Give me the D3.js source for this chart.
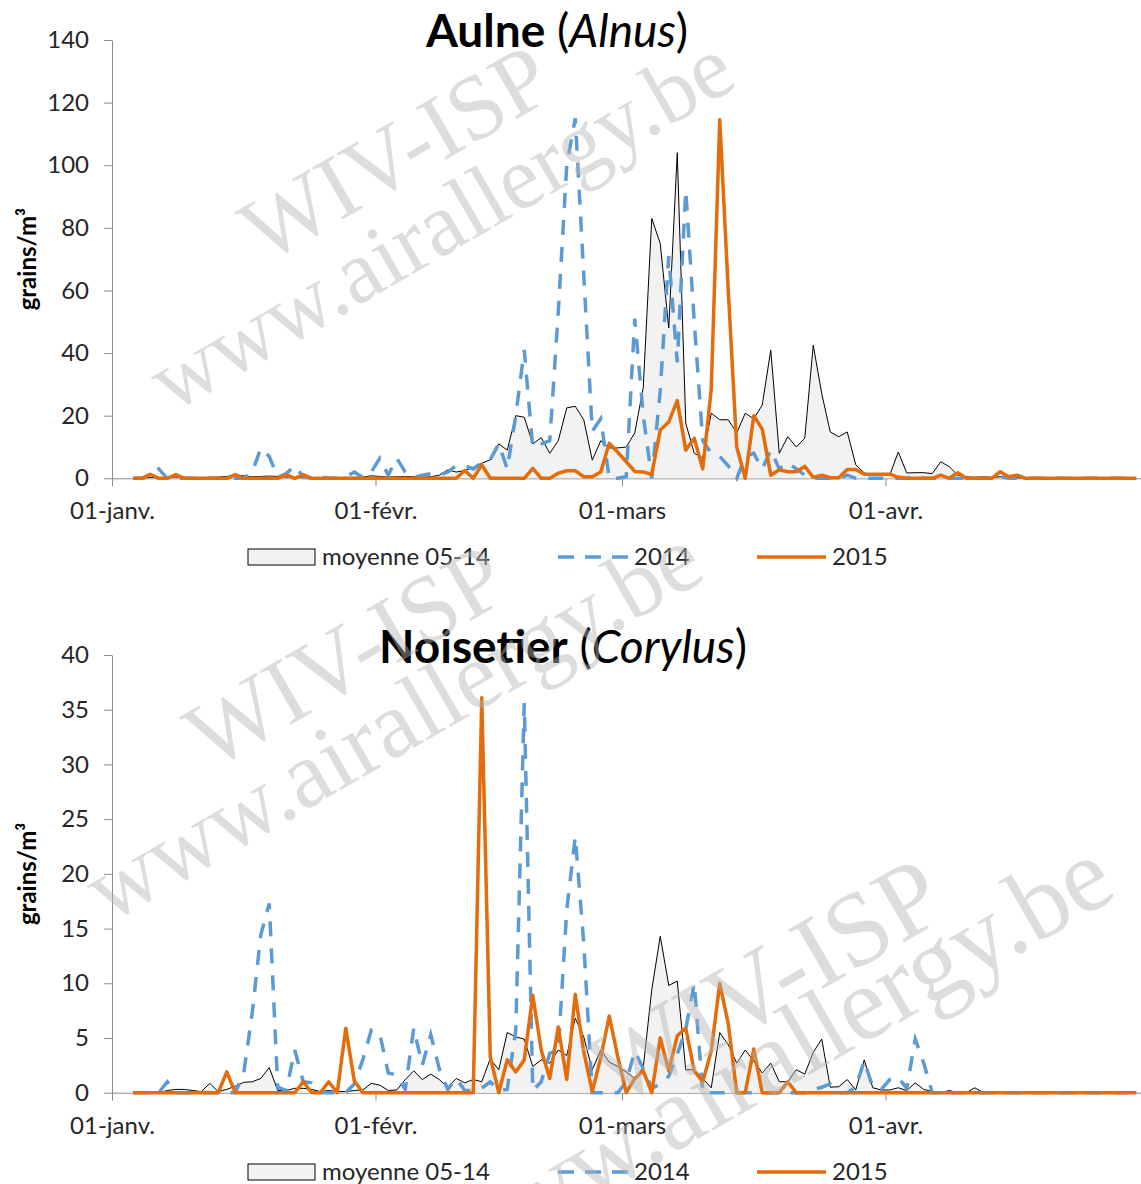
<!DOCTYPE html>
<html>
<head>
<meta charset="utf-8">
<script src="https://cdn.jsdelivr.net/npm/d3@7"></script>
<style>
  body { margin: 0; background: #fff; }
  text { font-family: Lato, "Open Sans", sans-serif; }
</style>
</head>
<body>
<svg id="chart" width="1141" height="1184"></svg>
<script>
// daily pollen counts, first value = 03 Jan, last = 30 Apr
const firstDay = "2016-01-03";

const alnusAvg = [
  0, 0.2, 0.3, 0.2, 0.3, 0.4, 0.3, 0.2, 0.2, 0.3,
  0.4, 0.6, 1.0, 0.8, 0.5, 0.6, 0.7, 0.6, 0.4, 0.3,
  0.2, 0.2, 0.2, 0.3, 0.2, 0.3, 0.3, 0.4, 0.8, 0.6,
  0.4, 0.5, 0.6, 0.5, 0.3, 0.5, 1.0, 2.7, 2.0, 2.5,
  3.5, 4.8, 5.9, 11, 9, 20, 19.5, 11, 13, 8,
  12, 22.5, 23, 18.7, 5.8, 12, 9.7, 9.7, 10, 14.5,
  29, 83, 75, 48, 104, 17.6, 8, 6.5, 20.8, 18.7,
  18.7, 14.5, 20.8, 19, 23.4, 41, 8, 13.3, 10, 12.8,
  42.5, 27, 14.8, 13.3, 14.8, 4.3, 1.7, 1, 1, 1,
  8.4, 1.7, 1.8, 1.8, 1.5, 5.3, 3.7, 1, 0.5, 0.3,
  0.5, 0.3, 0.5, 0.3, 0.2, 0, 0, 0, 0, 0,
  0, 0, 0.3, 0, 0, 0, 0, 0, 0
];
const alnus2014 = [
  0, 0, 0.5, 3, 0, 0, 0, 0, 0, 0,
  0, 0, 0, 0, 2, 9.6, 7, 0.3, 1.5, 4,
  0.5, 0, 0.5, 0, 0, 0.5, 2, 0.3, 2, 6.4,
  1, 6.4, 2, 0.3, 1, 1.5, 1, 2, 4, 4,
  3, 5, 6, 11, 3, 20, 41, 10, 11, 12,
  53, 100, 115, 65, 15, 19, 0, 0, 0.5, 51,
  20, 0, 28, 71, 37, 92, 50, 12, 8, 7,
  4, 0, 7, 8, 3, 9, 3, 5, 3, 1,
  0, 0, 0, 0, 1, 0, 0, 0, 0, 0,
  0, 0, 1, 0, 0, 0, 0, 0, 0, 0,
  0, 0, 0.5, 0, 0, 0, 0, 0, 0, 0,
  0, 0, 0, 0, 0, 0, 0, 0, 0
];
const alnus2015 = [
  0, 0, 1.3, 0, 0, 1.2, 0, 0, 0, 0,
  0, 0, 1.2, 0, 0, 0, 0, 0, 1.2, 0,
  1.2, 0, 0, 0, 0, 0, 0, 0, 0, 0,
  0, 0, 0, 0, 0, 0, 0, 0, 0, 2.5,
  0, 4.3, 0, 0, 0, 0, 0, 3.2, 0, 0,
  1.6, 2.4, 2.4, 0.5, 0.5, 2, 11.2, 8.3, 5.3, 2.2,
  2, 1.3, 15.4, 18, 24.8, 9, 12.8, 3, 28.5, 114.5,
  60, 10, 0, 20, 15.7, 1, 2.7, 2.1, 2.1, 3.8,
  0.3, 1, 0.2, 0.2, 2.8, 2.8, 1.3, 1.3, 1.3, 1.3,
  0.3, 0, 0, 0, 0, 1, 0, 1.8, 0, 0,
  0, 0, 2.1, 0.5, 1, 0, 0, 0, 0, 0,
  0, 0, 0, 0, 0, 0, 0, 0, 0
];

const corylusAvg = [
  0, 0, 0, 0, 0.2, 0.3, 0.3, 0.2, 0.1, 0.85,
  0.1, 0.3, 0.6, 0.95, 1.0, 1.3, 2.3, 0.2, 0.2, 0.4,
  0.4, 0.3, 0.1, 0.2, 0.1, 0.1, 0.2, 0.25, 0.85, 0.7,
  0.2, 0.25, 1.2, 2.0, 1.2, 1.7, 1.2, 0.5, 1.3, 0.9,
  1.2, 1.0, 3.1, 2.1, 5.5, 5.1, 4.9, 2.4, 3.0, 2.7,
  3.9, 3.4, 6.8, 5.1, 2.1, 3.9, 2.8, 2.4, 1.9, 1.3,
  2.3, 9.4, 14.3, 9.8, 10.2, 2.1, 2.1, 1.3, 0.45, 5.5,
  4.4, 2.7, 3.9, 2.9, 1.8, 2.7, 1.0, 1.0, 2.1, 1.7,
  3.7, 4.9, 0.5, 0.55, 1.2, 0.25, 3.0, 0.45, 0.25, 0.25,
  0.45, 0.2, 0.9, 0.3, 0.1, 0, 0.2, 0, 0, 0.45,
  0, 0, 0, 0, 0, 0, 0, 0, 0, 0,
  0, 0, 0, 0, 0, 0, 0, 0, 0
];
const corylus2014 = [
  0, 0, 0, 0, 1.0, 0, 0, 0, 0, 0,
  0, 0, 0, 1.8, 7.3, 14.4, 17.3, 0.5, 0.2, 3.9,
  1.0, 0.9, 0, 0, 0, 0, 0.8, 3.0, 5.7, 5.4,
  1.8, 1.6, 0.3, 5.9, 2.5, 5.3, 2.2, 0.3, 1.3, 0.2,
  0.2, 0.4, 1.0, 0.2, 0.3, 5.7, 35.6, 0.2, 1.0, 3.6,
  3.9, 16.7, 23.4, 13.7, 0, 0, 0, 0, 1.0, 3.8,
  2.2, 0.4, 0.8, 1.5, 3.5, 5.8, 10.0, 0, 0, 0,
  0, 0, 0, 0, 0, 0, 0, 0, 0, 0,
  0.3, 0.5, 0.8, 0, 0, 0.5, 2.9, 0.5, 0.3, 1.2,
  1.4, 0.4, 4.9, 2.7, 0, 0, 0, 0, 0, 0,
  0, 0, 0, 0, 0, 0, 0, 0, 0, 0,
  0, 0, 0, 0, 0, 0, 0, 0, 0
];
const corylus2015 = [
  0, 0, 0, 0, 0, 0, 0, 0, 0, 0,
  0, 1.9, 0, 0, 0, 0, 0, 0, 0, 0,
  1.0, 0, 0, 1.0, 0, 5.9, 1.1, 0, 0, 0,
  0, 0, 0, 0, 0, 0, 0, 0, 0, 0,
  0, 36.1, 3.3, 0, 3.0, 1.9, 3.0, 8.9, 3.9, 1.3,
  6.0, 1.2, 9.0, 3.75, 0.1, 3.2, 7.0, 3.3, 0, 1.3,
  2.0, 0, 5.0, 2.0, 5.2, 5.9, 2.0, 1.0, 3.8, 10.0,
  6.3, 0, 0, 4.0, 0, 0, 0, 1.0, 0, 0,
  0, 0, 0, 0, 0, 0, 0, 0, 0, 0,
  0, 0, 0, 0, 0, 0, 0, 0, 0, 0,
  0, 0, 0, 0, 0, 0, 0, 0, 0, 0,
  0, 0, 0, 0, 0, 0, 0, 0, 0
];

const monthTicks = ["2016-01-01", "2016-02-01", "2016-03-01", "2016-04-01"];
const monthLabels = ["01-janv.", "01-févr.", "01-mars", "01-avr."];
const alnusTicks = [0, 20, 40, 60, 80, 100, 120, 140];
const corylusTicks = [0, 5, 10, 15, 20, 25, 30, 35, 40];
const seriesNames = ["moyenne 05-14", "2014", "2015"];

const svg = d3.select('#chart');
const parse = d3.utcParse('%Y-%m-%d');
const start = parse(firstDay);
const x = d3.scaleUtc()
  .domain([parse("2016-01-01"), parse("2016-05-01")])
  .range([112, 1140.5]);

const blue = '#5b9bd5', orange = '#e46c0a', axisGrey = '#8c8c8c';

// points sit in the middle of their day
function toPoints(vals) {
  return vals.map((v, k) => ({date: d3.utcHour.offset(d3.utcDay.offset(start, k), 12), v: v}));
}

function drawPanel(cfg) {
  const y = d3.scaleLinear().domain([0, cfg.max]).range([cfg.bottom, cfg.top]);
  const g = svg.append('g');

  const area = d3.area().x(d => x(d.date)).y0(y(0)).y1(d => y(d.v));
  const line = d3.line().x(d => x(d.date)).y(d => y(d.v));

  // axes first so the zero-valued series lie over them
  const yAxis = g.append('g')
    .attr('transform', 'translate(112,0)')
    .call(d3.axisLeft(y).tickValues(cfg.ticks).tickSize(8).tickPadding(15).tickSizeOuter(0));
  const xAxis = g.append('g')
    .attr('transform', `translate(0,${cfg.bottom})`)
    .call(d3.axisBottom(x).tickValues(monthTicks.map(parse))
      .tickFormat((d, i) => monthLabels[i]).tickSize(8).tickPadding(16).tickSizeOuter(0));
  [yAxis, xAxis].forEach(a => {
    a.selectAll('path, line').attr('stroke', axisGrey);
    a.selectAll('text').style('font-size', '24px').attr('fill', '#262626');
  });

  g.append('path').datum(toPoints(cfg.avg))
    .attr('d', area).attr('fill', '#f2f2f2');
  g.append('path').datum(toPoints(cfg.avg))
    .attr('d', line).attr('fill', 'none').attr('stroke', '#000').attr('stroke-width', 1);
  g.append('path').datum(toPoints(cfg.s2014))
    .attr('d', line).attr('fill', 'none').attr('stroke', blue)
    .attr('stroke-width', 3.5).attr('stroke-dasharray', '15,12');
  g.append('path').datum(toPoints(cfg.s2015))
    .attr('d', line).attr('fill', 'none').attr('stroke', orange)
    .attr('stroke-width', 3.5).attr('stroke-linejoin', 'round');

  // title
  const t = g.append('text').attr('x', cfg.titleX).attr('y', cfg.titleY)
    .attr('text-anchor', 'middle').style('font-size', '46px').attr('fill', '#000');
  t.append('tspan').style('font-weight', 'bold').text(cfg.name);
  t.append('tspan').text(' (');
  t.append('tspan').style('font-style', 'italic').text(cfg.latin);
  t.append('tspan').text(')');

  // y label
  g.append('text')
    .attr('transform', `translate(36,${(cfg.top + cfg.bottom) / 2}) rotate(-90)`)
    .attr('text-anchor', 'middle')
    .style('font-size', '24px').style('font-weight', 'bold').attr('fill', '#000')
    .text('grains/m³');

  // legend
  const ly = cfg.legendY;
  const lg = g.append('g');
  lg.append('rect').attr('x', 248).attr('y', ly - 8).attr('width', 67).attr('height', 16)
    .attr('fill', '#f2f2f2').attr('stroke', '#000').attr('stroke-width', 1);
  lg.append('line').attr('x1', 558).attr('x2', 628).attr('y1', ly).attr('y2', ly)
    .attr('stroke', blue).attr('stroke-width', 3.5).attr('stroke-dasharray', '16,11');
  lg.append('line').attr('x1', 757).attr('x2', 826).attr('y1', ly).attr('y2', ly)
    .attr('stroke', orange).attr('stroke-width', 3.5);
  [322, 634, 832].forEach((lx, i) => {
    lg.append('text').attr('x', lx).attr('y', ly + 8)
      .style('font-size', '24px').attr('fill', '#262626').text(seriesNames[i]);
  });
}

drawPanel({name: 'Aulne', latin: 'Alnus', max: 140, ticks: alnusTicks,
  top: 40, bottom: 478.3, titleX: 557, titleY: 47, legendY: 557,
  avg: alnusAvg, s2014: alnus2014, s2015: alnus2015});
drawPanel({name: 'Noisetier', latin: 'Corylus', max: 40, ticks: corylusTicks,
  top: 655, bottom: 1092.7, titleX: 563, titleY: 663, legendY: 1172,
  avg: corylusAvg, s2014: corylus2014, s2015: corylus2015});

// watermark
const marks = [
  {text: 'WIV-ISP', x: 395, y: 152, size: 92},
  {text: 'www.airallergy.be', x: 440, y: 222, size: 90},
  {text: 'WIV-ISP', x: 345, y: 655, size: 95},
  {text: 'www.airallergy.be', x: 392, y: 722, size: 95},
  {text: 'WIV-ISP', x: 765, y: 980, size: 105},
  {text: 'www.airallergy.be', x: 770, y: 1055, size: 105}
];
svg.append('g').selectAll('text').data(marks).join('text')
  .attr('transform', d => `translate(${d.x},${d.y}) rotate(-30)`)
  .attr('text-anchor', 'middle').attr('dy', '0.35em')
  .style('font-family', '"Liberation Serif", "DejaVu Serif", serif')
  .style('font-size', d => d.size + 'px')
  .attr('fill', '#b4b4b4').attr('opacity', 0.45)
  .text(d => d.text);
</script>
</body>
</html>
